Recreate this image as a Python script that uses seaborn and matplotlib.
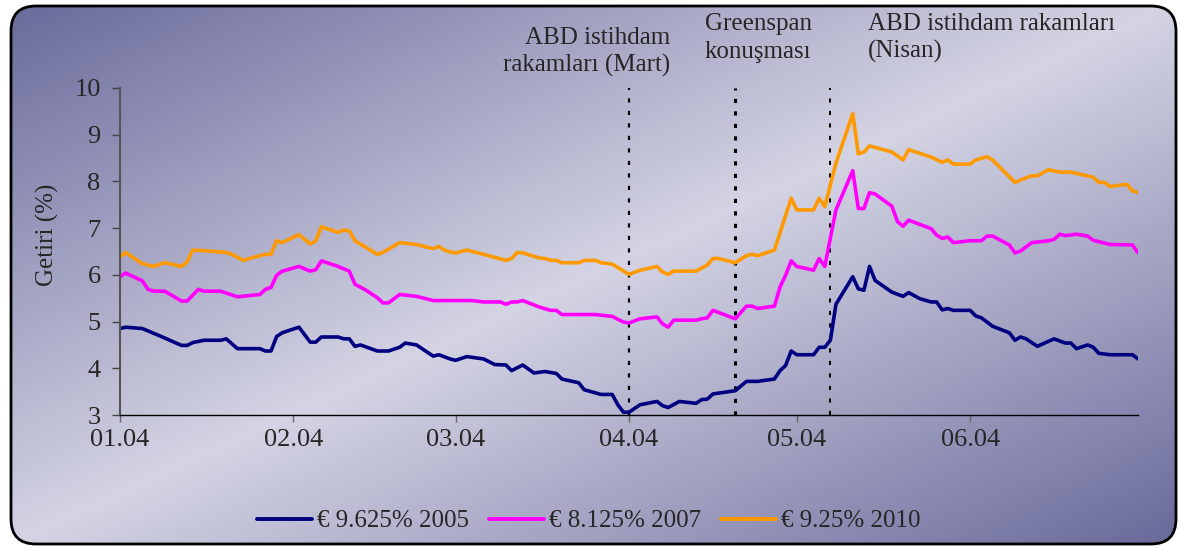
import numpy as np
import pandas as pd
import seaborn as sns
import matplotlib.pyplot as plt
import matplotlib.dates as mdates
from matplotlib.patches import FancyBboxPatch

# days counted from 2004-01-01, yields in %
start = pd.Timestamp("2004-01-01")
names = ["€ 9.625% 2005", "€ 8.125% 2007", "€ 9.25% 2010"]
colors = ["#000080", "#ff00ff", "#ff9900"]

nav_days = [0, 1, 4, 7, 11, 12, 13, 15, 18, 19, 21, 25, 26, 27, 28, 29, 32, 34, 35, 36, 39, 40, 41, 42, 43, 46, 48,
            50, 51, 53, 56, 57,
            59, 60, 62, 65, 67, 69, 70, 72, 74, 76, 78, 79, 82, 83, 86, 88, 89, 90, 91, 93, 96, 97, 98, 100, 103, 104,
            105, 106, 110, 112, 114, 117, 118, 119, 120, 121,
            124, 125, 126, 127, 128, 131, 132, 133, 134, 135, 138, 140, 141, 143, 145, 146, 147, 148, 149, 152, 153,
            154, 156, 159, 160, 161, 162, 164, 167, 169, 170, 171, 173, 174, 175, 177, 181, 182]
nav_vals = [4.85, 4.88, 4.85, 4.70, 4.49, 4.49, 4.55, 4.60, 4.60, 4.63, 4.42, 4.42, 4.37, 4.37, 4.68, 4.76, 4.88,
            4.56, 4.56, 4.67, 4.67, 4.63, 4.63, 4.47, 4.50, 4.37, 4.37, 4.45, 4.54, 4.50, 4.26, 4.29,
            4.20, 4.17, 4.25, 4.20, 4.08, 4.07, 3.95, 4.07, 3.90, 3.93, 3.89, 3.77, 3.69, 3.54, 3.44, 3.44, 3.22,
            3.06, 3.06, 3.22, 3.29, 3.20, 3.16, 3.29, 3.25, 3.33, 3.34, 3.45, 3.52, 3.72, 3.72, 3.77, 3.95, 4.06,
            4.37, 4.29,
            4.29, 4.45, 4.45, 4.60, 5.37, 5.96, 5.70, 5.67, 6.18, 5.88, 5.63, 5.54, 5.62, 5.49, 5.42, 5.42, 5.25,
            5.28, 5.24, 5.24, 5.12, 5.08, 4.90, 4.76, 4.60, 4.67, 4.63, 4.47, 4.63, 4.54, 4.54, 4.42, 4.50, 4.45,
            4.32, 4.29, 4.29, 4.20]

mag_days = [0, 1, 4, 5, 6, 8, 11, 12, 14, 15, 18, 21, 25, 26, 27, 28, 29, 32, 34, 35, 36, 39, 41, 42, 44, 46, 47,
            48, 50, 53, 56,
            59, 63, 65, 68, 69, 70, 71, 72, 75, 77, 78, 79, 85, 88, 90, 91, 93, 96, 97, 98, 99, 103, 104, 105, 106,
            110, 112, 113, 114, 117, 118, 119, 120, 121,
            124, 125, 126, 128, 131, 132, 133, 134, 135, 138, 139, 140, 141, 145, 146, 147, 148, 149, 152, 154, 155,
            156, 159, 160, 161, 163, 166, 167, 168, 169, 171, 173, 174, 177, 181, 182]
mag_vals = [5.96, 6.04, 5.87, 5.69, 5.65, 5.65, 5.44, 5.44, 5.69, 5.65, 5.65, 5.53, 5.58, 5.69, 5.73, 5.99, 6.08,
            6.18, 6.08, 6.11, 6.30, 6.18, 6.08, 5.80, 5.67, 5.51, 5.40, 5.40, 5.58, 5.54, 5.45,
            5.45, 5.45, 5.42, 5.42, 5.37, 5.42, 5.42, 5.45, 5.31, 5.24, 5.24, 5.15, 5.15, 5.11, 4.99, 4.97, 5.06,
            5.10, 4.95, 4.88, 5.03, 5.03, 5.06, 5.08, 5.24, 5.06, 5.33, 5.33, 5.28, 5.33, 5.74, 5.99, 6.30, 6.18,
            6.10, 6.35, 6.18, 7.39, 8.23, 7.42, 7.42, 7.76, 7.73, 7.47, 7.14, 7.04, 7.17, 6.99, 6.85, 6.78, 6.81,
            6.69, 6.73, 6.73, 6.83, 6.83, 6.64, 6.47, 6.51, 6.69, 6.73, 6.76, 6.87, 6.84, 6.87, 6.83, 6.74, 6.65,
            6.64, 6.47]

org_days = [0, 1, 4, 6, 8, 11, 12, 13, 16, 19, 20, 22, 24, 26, 27, 28, 29, 32, 34, 35, 36, 39, 40, 41, 42, 46, 47,
            50, 53, 56, 57, 58,
            59, 60, 62, 65, 69, 70, 71, 72, 75, 76, 77, 78, 79, 82, 83, 85, 86, 88, 91, 93, 96, 97, 98, 99, 103,
            105, 106, 107, 110, 112, 113, 114, 117, 120, 121,
            124, 125, 126, 128, 131, 132, 133, 134, 138, 140, 141, 145, 147, 148, 149, 152, 153, 155, 156, 160, 161,
            163, 164, 166, 168, 170, 174, 175, 176, 177, 180, 181, 182]
org_vals = [6.38, 6.48, 6.24, 6.18, 6.26, 6.18, 6.28, 6.53, 6.51, 6.48, 6.44, 6.31, 6.38, 6.44, 6.44, 6.73, 6.69,
            6.86, 6.66, 6.73, 7.03, 6.91, 6.96, 6.94, 6.73, 6.44, 6.48, 6.69, 6.65, 6.56, 6.61, 6.53,
            6.49, 6.47, 6.53, 6.44, 6.31, 6.35, 6.48, 6.47, 6.36, 6.35, 6.31, 6.31, 6.26, 6.26, 6.31, 6.31, 6.26,
            6.23, 6.01, 6.10, 6.18, 6.06, 6.01, 6.08, 6.08, 6.21, 6.35, 6.35, 6.26, 6.41, 6.44, 6.41, 6.53, 7.64,
            7.39,
            7.39, 7.64, 7.46, 8.39, 9.45, 8.59, 8.63, 8.76, 8.63, 8.46, 8.68, 8.52, 8.41, 8.46, 8.37, 8.37, 8.46,
            8.53, 8.46, 7.98, 8.03, 8.12, 8.12, 8.25, 8.20, 8.20, 8.09, 7.98, 7.98, 7.89, 7.94, 7.80, 7.76]

event_dates = ["2004-04-01", "2004-04-20", "2004-05-07"]
event_lw = [1.6, 2.2, 1.4]
event_texts = ["ABD istihdam\nrakamları (Mart)", "Greenspan\nkonuşması", "ABD istihdam rakamları\n(Nisan)"]

sns.set_theme(style="ticks")
plt.rcParams["font.family"] = ["Liberation Serif", "DejaVu Serif"]
plt.rcParams["lines.scale_dashes"] = False

frames = []
for name, days, vals in zip(names, [nav_days, mag_days, org_days], [nav_vals, mag_vals, org_vals]):
    frames.append(pd.DataFrame({"date": start + pd.to_timedelta(days, unit="D"),
                                "value": vals, "series": name}))
df = pd.concat(frames, ignore_index=True)

W, H = 1179, 548
fig = plt.figure(figsize=(W / 100, H / 100), dpi=100)

# gradient background inside a rounded frame
bg = fig.add_axes([0, 0, 1, 1], zorder=-10)
yy, xx = np.mgrid[0:H, 0:W]
t = np.abs(xx / W + yy / H - 1)
dark = np.array([104, 104, 154]) / 255
light = np.array([212, 212, 228]) / 255
img = light + (dark - light) * t[..., None]
im = bg.imshow(img, extent=(0, W, H, 0), aspect="auto")
box = FancyBboxPatch((11, 6), 1165, 538, boxstyle="round,pad=0,rounding_size=25",
                     fc="none", ec="black", lw=2)
bg.add_patch(box)
im.set_clip_path(box)
bg.set_xlim(0, W)
bg.set_ylim(H, 0)
bg.axis("off")

ax = fig.add_axes([120 / W, 1 - 415 / H, 1018 / W, 327 / H])
ax.patch.set_alpha(0)
sns.lineplot(data=df, x="date", y="value", hue="series", palette=colors, hue_order=names,
             lw=2.6, errorbar=None, ax=ax)

for d, lw in zip(event_dates, event_lw):
    ax.axvline(pd.Timestamp(d), color="black", lw=lw, ls=(0, (3, 6)), zorder=1)

ax.set_ylim(3, 10)
ax.set_yticks(range(3, 11))
ax.set_xlim(start, start + pd.Timedelta(days=182))
ax.set_xticks(pd.date_range("2004-01-01", periods=6, freq="MS"))
ax.xaxis.set_major_formatter(mdates.DateFormatter("%m.%y"))
ax.set_xlabel("")
ax.set_ylabel("Getiri (%)", fontsize=18)
ax.yaxis.set_label_coords(-0.06, 0.55)

for s in ["top", "right"]:
    ax.spines[s].set_visible(False)
ax.spines["left"].set_color("#555555")
ax.spines["left"].set_linewidth(1.5)
ax.spines["bottom"].set_color("black")
ax.spines["bottom"].set_linewidth(1)
ax.tick_params(axis="y", length=6, width=1, color="#444444", pad=8, labelsize=19)
ax.tick_params(axis="x", length=5, width=1, color="#666666", pad=5, labelsize=19)

handles, labels = ax.get_legend_handles_labels()
ax.get_legend().remove()
leg = fig.legend(handles, labels, loc="center", bbox_to_anchor=(589 / W, 1 - 521 / H), ncol=3,
                 frameon=False, fontsize=18, handlelength=2.2, handletextpad=0.2, columnspacing=0.8)
for h in leg.get_lines():
    h.set_linewidth(2.8)

fig.text(670 / W, 1 - 52 / H, event_texts[0], ha="right", va="center", multialignment="right",
         fontsize=18, linespacing=1.3)
fig.text(705 / W, 1 - 38 / H, event_texts[1], ha="left", va="center", fontsize=18, linespacing=1.3)
fig.text(868 / W, 1 - 38 / H, event_texts[2], ha="left", va="center", fontsize=18, linespacing=1.3)

fig.savefig("out.png", dpi=100)
